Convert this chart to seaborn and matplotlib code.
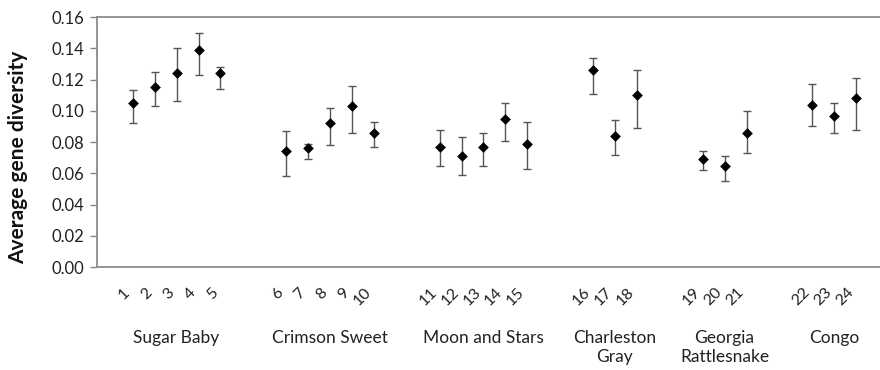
import numpy as np
import pandas as pd
import matplotlib
matplotlib.use("Agg")
import matplotlib.pyplot as plt
import matplotlib.transforms as mtransforms
import seaborn as sns

# Cultivar groups and the accession numbers belonging to each
groups = ["Sugar Baby", "Crimson Sweet", "Moon and Stars",
          "Charleston\nGray", "Georgia\nRattlesnake", "Congo"]
group_sizes = [5, 5, 5, 3, 3, 3]
accessions = [str(i) for i in range(1, 25)]

# Average gene diversity per accession, with lower / upper error limits
diversity = [0.105, 0.115, 0.124, 0.139, 0.124,
             0.074, 0.076, 0.092, 0.103, 0.086,
             0.077, 0.071, 0.077, 0.095, 0.079,
             0.126, 0.084, 0.110,
             0.069, 0.065, 0.086,
             0.104, 0.097, 0.108]
lower = [0.092, 0.103, 0.106, 0.123, 0.114,
         0.058, 0.069, 0.078, 0.086, 0.077,
         0.065, 0.059, 0.065, 0.081, 0.063,
         0.111, 0.072, 0.089,
         0.062, 0.055, 0.073,
         0.090, 0.086, 0.088]
upper = [0.113, 0.125, 0.140, 0.150, 0.128,
         0.087, 0.079, 0.102, 0.116, 0.093,
         0.088, 0.083, 0.086, 0.105, 0.093,
         0.134, 0.094, 0.126,
         0.074, 0.071, 0.100,
         0.117, 0.105, 0.121]

# Slot positions: two empty slots separate consecutive groups
group_of = np.repeat(np.arange(len(groups)), group_sizes)
pos = np.arange(len(accessions)) + 2 * group_of

df = pd.DataFrame({"pos": pos, "accession": accessions,
                   "diversity": diversity, "lower": lower, "upper": upper,
                   "group": group_of})

sns.set_style("white")
plt.rcParams["font.family"] = ["Lato", "DejaVu Sans"]

fig = plt.figure(figsize=(8.8, 3.7), dpi=100)
ax = fig.add_axes([0.110, 0.278, 0.889, 0.676])

err = np.vstack([df["diversity"] - df["lower"], df["upper"] - df["diversity"]])
ax.errorbar(df["pos"], df["diversity"], yerr=err, fmt="none",
            ecolor="#555555", elinewidth=1.0, capsize=2.8, capthick=1.0,
            zorder=2)
sns.scatterplot(data=df, x="pos", y="diversity", marker="D", s=30,
                color="black", linewidth=0, ax=ax, zorder=3, legend=False)

ax.set_xlim(-1.64, 34.05)
ax.set_ylim(0, 0.16)
yt = np.arange(0, 0.161, 0.02)
ax.set_yticks(yt)
ax.set_yticklabels([f"{v:.2f}" for v in yt], fontsize=12, color="#222222")
ax.set_xticks(df["pos"])
ax.set_xticklabels(df["accession"], rotation=45, ha="right",
                   fontsize=11.5, color="#222222")
shift = mtransforms.ScaledTranslation(4 / 100, 0, fig.dpi_scale_trans)
for lbl in ax.get_xticklabels():
    lbl.set_transform(lbl.get_transform() + shift)
ax.tick_params(axis="x", length=0, pad=13)
ax.tick_params(axis="y", length=5, width=1, color="#888888", direction="out",
               left=True, pad=4)
ax.set_xlabel("")
ax.set_ylabel("Average gene diversity", fontsize=15, fontweight="bold",
              color="#111111")
ax.yaxis.set_label_coords(-0.088, 0.44)

for side in ["top", "left", "bottom"]:
    ax.spines[side].set_color("#8c8c8c")
    ax.spines[side].set_linewidth(1.3)
ax.spines["right"].set_visible(False)
ax.grid(False)

# Cultivar names centred under each group of accessions
trans = mtransforms.blended_transform_factory(ax.transData, ax.transAxes)
for g, name in enumerate(groups):
    centre = df.loc[df["group"] == g, "pos"].mean()
    ax.text(centre, -0.252, name, transform=trans, ha="center", va="top",
            fontsize=12.5, color="#222222", linespacing=1.2)

fig.savefig("out.png", dpi=100, facecolor="white")
